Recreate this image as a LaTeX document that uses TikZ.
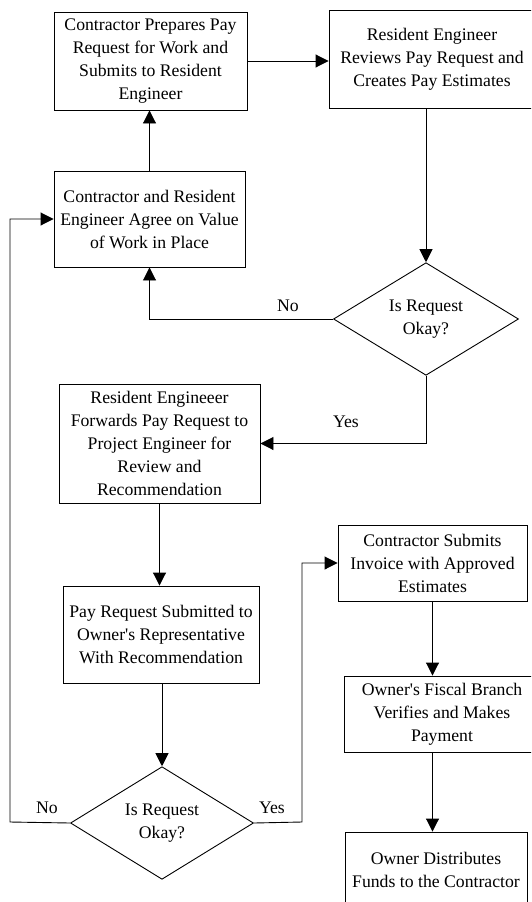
\documentclass[tikz,border=0pt]{standalone}
\usepackage{fontspec}
\setmainfont{Liberation Serif}
\usetikzlibrary{shapes.geometric,arrows.meta}
\begin{document}
\begin{tikzpicture}[x=1pt,y=-1pt,
  every node/.style={font=\fontsize{17.7}{23}\selectfont},
  box/.style={draw,line width=0.9pt,align=center,inner sep=0pt},
  dec/.style={draw,line width=0.9pt,diamond,align=center,inner sep=0pt},
  lbl/.style={inner sep=0pt},
  arr/.style={line width=0.9pt,-{Triangle[length=13pt,width=13pt]}},
  ln/.style={line width=0.9pt}]
\useasboundingbox (0,0) rectangle (531,902);
\clip (0,0) rectangle (531,902);
\node[box,minimum width=193pt,minimum height=98pt] (A) at (150.5,61)
  {Contractor Prepares Pay\\Request for Work and\\Submits to Resident\\Engineer};
\node[box,minimum width=206pt,minimum height=98pt] (B) at (432,59)
  {Resident Engineer\\Reviews Pay Request and\\Creates Pay Estimates};
\node[box,minimum width=191pt,minimum height=96pt] (C) at (149.5,219)
  {Contractor and Resident\\Engineer Agree on Value\\of Work in Place};
\node[dec,minimum width=185pt,minimum height=96pt] (D1) at (426,319)
  {Is Request\\Okay?};
\node[box,minimum width=201pt,minimum height=119pt] (E) at (159.5,443.5)
  {Resident Engineeer\\Forwards Pay Request to\\Project Engineer for\\Review and\\Recommendation};
\node[box,minimum width=196pt,minimum height=97pt] (F) at (161,634.5)
  {Pay Request Submitted to\\Owner\textquotesingle s Representative\\With Recommendation};
\node[dec,minimum width=183pt,minimum height=95pt] (D2) at (162,823)
  {Is Request\\Okay?};
\node[box,minimum width=189pt,minimum height=76pt] (G) at (432.5,563)
  {Contractor Submits\\Invoice with Approved\\Estimates};
\node[box,minimum width=196pt,minimum height=76pt] (H) at (442,714)
  {Owner\textquotesingle s Fiscal Branch\\Verifies and Makes\\Payment};
\node[box,minimum width=182pt,minimum height=76pt] (I) at (436,870)
  {Owner Distributes\\Funds to the Contractor};
\draw[arr] (C.north) -- (C.north |- A.south);
\draw[arr] (A.east) -- (A.east -| B.west);
\draw[arr] (B.south -| D1.north) -- (D1.north);
\draw[arr] (D1.west) -| (C.south);
\node[lbl] (no1) at (288,306) {No};
\draw[arr] (D1.south) |- (E.east);
\node[lbl] (yes1) at (346,422) {Yes};
\draw[arr] (E.south) -- (E.south |- F.north);
\draw[arr] (F.south -| D2.north) -- (D2.north);
\coordinate (nb) at (10,822);
\draw[arr] (D2.west) -- (nb) |- (C.west);
\node[lbl] (no2) at (47,808) {No};
\coordinate (yb) at (302,822);
\draw[arr] (D2.east) -- (yb) |- (G.west);
\node[lbl] (yes2) at (272,808) {Yes};
\draw[arr] (G.south) -- (G.south |- H.north);
\draw[arr] (H.south -| G.south) -- (G.south |- I.north);
\end{tikzpicture}
\end{document}
